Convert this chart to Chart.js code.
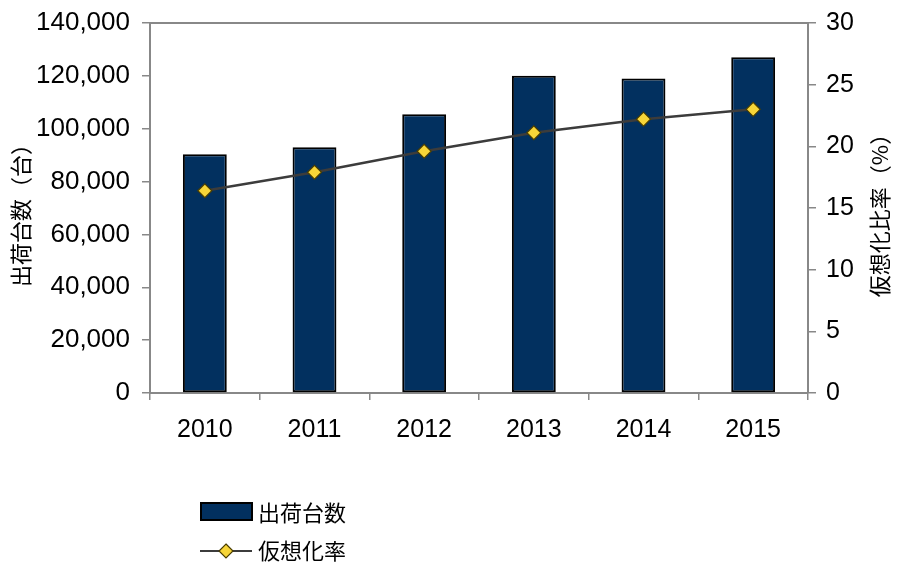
<!DOCTYPE html>
<html>
<head>
<meta charset="utf-8">
<script src="https://cdn.jsdelivr.net/npm/chart.js@4/dist/chart.umd.min.js"></script>
<style>
  html, body { margin: 0; padding: 0; background: #fff; }
  #wrap { width: 900px; height: 572px; position: relative; }
</style>
</head>
<body>
<div id="wrap"><canvas id="c" width="900" height="572"></canvas></div>
<script>
// ---- Data ----
const years = ['2010', '2011', '2012', '2013', '2014', '2015'];
const shipments = [90300, 93000, 105500, 120000, 119000, 127000];
const virtRate = [16.4, 17.9, 19.6, 21.1, 22.2, 23.0];
const leftTitle = '出荷台数（台）';
const rightTitle = '仮想化比率（%）';
const shipLabel = '出荷台数';
const rateLabel = '仮想化率';

const LATIN = '"Liberation Sans", Arial, sans-serif';
const CJK = '"Noto Sans CJK JP", sans-serif';
const BAR_FILL = '#02305f';
const LINE_COL = '#3c3c3c';
const MARK_FILL = '#f7d538';
const MARK_EDGE = '#4a3d00';
const AXIS_COL = '#888888';

const framePlugin = {
  id: 'frame',
  afterDraw(chart) {
    const ctx = chart.ctx;
    const a = chart.chartArea;
    ctx.save();
    // plot frame (top edge)
    ctx.strokeStyle = AXIS_COL;
    ctx.lineWidth = 2;
    ctx.beginPath();
    ctx.moveTo(a.left, a.top);
    ctx.lineTo(a.right, a.top);
    ctx.stroke();

    // axis titles (both read bottom-to-top)
    ctx.fillStyle = '#000';
    ctx.font = '22px ' + CJK;
    ctx.textAlign = 'center';
    ctx.textBaseline = 'middle';
    const cy = (a.top + a.bottom) / 2 + 2;
    ctx.save();
    ctx.translate(21, cy);
    ctx.rotate(-Math.PI / 2);
    ctx.fillText(leftTitle, 0, 0);
    ctx.restore();
    ctx.save();
    ctx.translate(880, cy);
    ctx.rotate(-Math.PI / 2);
    ctx.fillText(rightTitle, 0, 0);
    ctx.restore();

    // legend
    const ds0 = chart.data.datasets[0];
    const ds1 = chart.data.datasets[1];
    ctx.textAlign = 'left';
    ctx.textBaseline = 'middle';
    ctx.font = '22px ' + CJK;
    // bar item
    ctx.fillStyle = ds0.backgroundColor;
    ctx.fillRect(201, 503, 51, 17);
    ctx.strokeStyle = ds0.borderColor;
    ctx.lineWidth = 2;
    ctx.strokeRect(201, 503, 51, 17);
    ctx.fillStyle = '#000';
    ctx.fillText(ds0.label, 258, 513);
    // line item
    ctx.strokeStyle = ds1.borderColor;
    ctx.lineWidth = 2;
    ctx.beginPath();
    ctx.moveTo(200, 551);
    ctx.lineTo(252, 551);
    ctx.stroke();
    ctx.fillStyle = ds1.pointBackgroundColor;
    ctx.strokeStyle = ds1.pointBorderColor;
    ctx.lineWidth = 1.2;
    ctx.beginPath();
    ctx.moveTo(226, 544); ctx.lineTo(233, 551); ctx.lineTo(226, 558); ctx.lineTo(219, 551); ctx.closePath();
    ctx.fill(); ctx.stroke();
    ctx.fillStyle = '#000';
    ctx.fillText(ds1.label, 258, 551);
    ctx.restore();
  }
};

new Chart(document.getElementById('c'), {
  data: {
    labels: years,
    datasets: [
      {
        type: 'bar',
        label: shipLabel,
        data: shipments,
        yAxisID: 'y',
        backgroundColor: BAR_FILL,
        borderColor: '#000',
        borderWidth: 2,
        borderSkipped: false,
        barPercentage: 0.4,
        categoryPercentage: 1.0,
        order: 2
      },
      {
        type: 'line',
        label: rateLabel,
        data: virtRate,
        yAxisID: 'y1',
        borderColor: LINE_COL,
        borderWidth: 2.5,
        pointStyle: 'rectRot',
        pointRadius: 7,
        pointHoverRadius: 7,
        pointBackgroundColor: MARK_FILL,
        pointBorderColor: MARK_EDGE,
        pointBorderWidth: 1.2,
        tension: 0,
        order: 1
      }
    ]
  },
  options: {
    responsive: false,
    animation: false,
    devicePixelRatio: 1,
    layout: { padding: { top: 23, left: 0, right: 0, bottom: 0 } },
    plugins: {
      legend: { display: false },
      tooltip: { enabled: false },
      title: { display: false }
    },
    scales: {
      x: {
        position: 'bottom',
        grid: { offset: true, drawOnChartArea: false, drawTicks: true, tickLength: 7, color: AXIS_COL, lineWidth: 1.5 },
        border: { color: AXIS_COL, width: 2 },
        ticks: { color: '#000', font: { family: LATIN, size: 25 }, padding: 15, maxRotation: 0 },
        afterFit(s) { s.height = 179; }
      },
      y: {
        position: 'left',
        min: 0, max: 140000,
        ticks: {
          stepSize: 20000,
          color: '#000',
          font: { family: LATIN, size: 26 },
          padding: 12,
          callback: v => v.toLocaleString('en-US')
        },
        grid: { drawOnChartArea: false, drawTicks: true, tickLength: 8, color: AXIS_COL, lineWidth: 1.5 },
        border: { color: AXIS_COL, width: 2 },
        afterFit(s) { s.width = 150; s.paddingTop = 0; s.paddingBottom = 0; }
      },
      y1: {
        position: 'right',
        min: 0, max: 30,
        ticks: {
          stepSize: 5,
          color: '#000',
          font: { family: LATIN, size: 25 },
          padding: 10
        },
        grid: { drawOnChartArea: false, drawTicks: true, tickLength: 8, color: AXIS_COL, lineWidth: 1.5 },
        border: { color: AXIS_COL, width: 2 },
        afterFit(s) { s.width = 92; s.paddingTop = 0; s.paddingBottom = 0; }
      }
    }
  },
  plugins: [framePlugin]
});
</script>
</body>
</html>
